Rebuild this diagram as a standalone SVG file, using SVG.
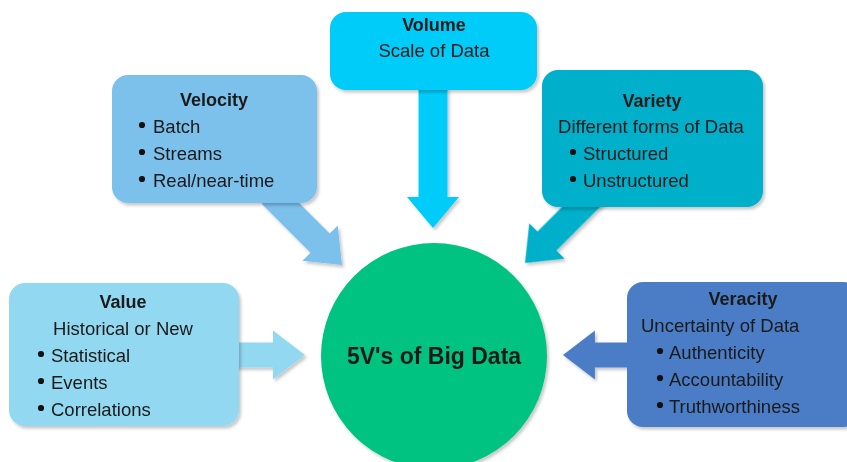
<svg xmlns="http://www.w3.org/2000/svg" width="847" height="462" viewBox="0 0 847 462">
  <style>
    text { font-family: "Liberation Sans", Arial, sans-serif; fill: #1a1a1a; }
    .title { font-size: 18px; font-weight: bold; text-anchor: middle; }
    .sub { font-size: 18.5px; text-anchor: middle; }
    .item { font-size: 18.5px; }
    .center { font-size: 23px; font-weight: bold; text-anchor: middle; }
    .dot { fill: #111; }
    .shade { filter: url(#shadow); }
  </style>
  <defs>
    <filter id="shadow" x="-10%" y="-10%" width="130%" height="130%">
      <feDropShadow dx="2" dy="2.5" stdDeviation="1.8" flood-color="#000" flood-opacity="0.22"/>
    </filter>
  </defs>

  <rect width="847" height="462" fill="#ffffff"/>

  <!-- block arrows pointing into the central circle -->
  <g id="connectors" class="shade">
    <polygon fill="#7cc0ec" transform="translate(342,265) rotate(45)" points="0,0 -31,-25 -31,-13.5 -100,-13.5 -100,13.5 -31,13.5 -31,25"/>
    <polygon fill="#00ccfa" transform="translate(433,228) rotate(90)" points="0,0 -31,-26 -31,-14.5 -140,-14.5 -140,14.5 -31,14.5 -31,26"/>
    <polygon fill="#00b0cb" transform="translate(525,263) rotate(135)" points="0,0 -31,-25 -31,-13.5 -100,-13.5 -100,13.5 -31,13.5 -31,25"/>
    <polygon fill="#92d8f1" transform="translate(305,355)" points="0,0 -32,-24.5 -32,-12.5 -80,-12.5 -80,12.5 -32,12.5 -32,24.5"/>
    <polygon fill="#4c7dc6" transform="translate(563,355) rotate(180)" points="0,0 -32,-24.5 -32,-12.5 -80,-12.5 -80,12.5 -32,12.5 -32,24.5"/>
  </g>

  <!-- centre -->
  <g id="big-data">
    <circle class="shade" cx="434" cy="356" r="113" fill="#00c382"/>
    <text class="center" x="434" y="364">5V's of Big Data</text>
  </g>

  <g id="velocity">
    <rect class="shade" x="112" y="75" width="205" height="128" rx="16" fill="#7cc0ec"/>
    <text class="title" x="214" y="106">Velocity</text>
    <circle class="dot" cx="142" cy="125" r="3.1"/>
    <text class="item" x="153" y="133">Batch</text>
    <circle class="dot" cx="142" cy="152" r="3.1"/>
    <text class="item" x="153" y="160">Streams</text>
    <circle class="dot" cx="142" cy="179" r="3.1"/>
    <text class="item" x="153" y="187">Real/near-time</text>
  </g>

  <g id="volume">
    <rect class="shade" x="330" y="12" width="207" height="78" rx="16" fill="#00ccfa"/>
    <text class="title" x="434" y="31">Volume</text>
    <text class="sub" x="434" y="57">Scale of Data</text>
  </g>

  <g id="variety">
    <rect class="shade" x="542" y="70" width="221" height="137" rx="16" fill="#00b0cb"/>
    <text class="title" x="652" y="107">Variety</text>
    <text class="sub" x="651" y="133">Different forms of Data</text>
    <circle class="dot" cx="573" cy="152" r="3.1"/>
    <text class="item" x="583" y="160">Structured</text>
    <circle class="dot" cx="573" cy="179" r="3.1"/>
    <text class="item" x="583" y="187">Unstructured</text>
  </g>

  <g id="value">
    <rect class="shade" x="9" y="283" width="230" height="143" rx="16" fill="#92d8f1"/>
    <text class="title" x="123" y="308">Value</text>
    <text class="sub" x="123" y="335">Historical or New</text>
    <circle class="dot" cx="41" cy="354" r="3.1"/>
    <text class="item" x="51" y="362">Statistical</text>
    <circle class="dot" cx="41" cy="381" r="3.1"/>
    <text class="item" x="51" y="389">Events</text>
    <circle class="dot" cx="41" cy="408" r="3.1"/>
    <text class="item" x="51" y="416">Correlations</text>
  </g>

  <g id="veracity">
    <rect class="shade" x="627" y="282" width="232" height="145" rx="16" fill="#4c7dc6"/>
    <text class="title" x="743" y="305">Veracity</text>
    <text class="item" x="641" y="332">Uncertainty of Data</text>
    <circle class="dot" cx="660" cy="351" r="3.1"/>
    <text class="item" x="669" y="359">Authenticity</text>
    <circle class="dot" cx="660" cy="378" r="3.1"/>
    <text class="item" x="669" y="386">Accountability</text>
    <circle class="dot" cx="660" cy="405" r="3.1"/>
    <text class="item" x="669" y="413">Truthworthiness</text>
  </g>
</svg>
